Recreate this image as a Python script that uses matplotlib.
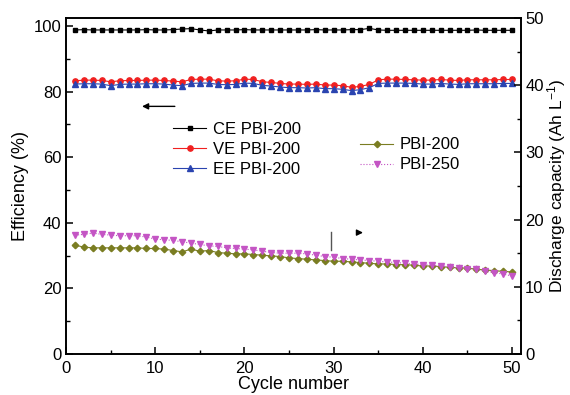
import matplotlib
matplotlib.use('Agg')
import matplotlib.pyplot as plt
import numpy as np

plt.rcParams['font.family'] = ['Liberation Sans', 'DejaVu Sans']
plt.rcParams['mathtext.fontset'] = 'custom'
plt.rcParams['mathtext.rm'] = 'Liberation Sans'
plt.rcParams['mathtext.default'] = 'regular'

cycles = list(range(1, 51))

# coulombic / voltage / energy efficiency of PBI-200 (%)
ce_200 = [98.8, 98.9, 98.8, 98.8, 98.8, 98.8, 98.8, 98.8, 98.9, 98.8,
          98.8, 98.9, 99.1, 99.2, 98.8, 98.5, 98.8, 98.8, 98.8, 98.9,
          98.8, 98.8, 98.8, 98.8, 98.8, 98.8, 98.8, 98.9, 98.8, 98.8,
          98.8, 98.9, 98.9, 99.3, 98.8, 98.7, 98.7, 98.7, 98.7, 98.7,
          98.7, 98.7, 98.7, 98.7, 98.7, 98.8, 98.7, 98.7, 98.7, 98.7]
ve_200 = [83.3, 83.5, 83.5, 83.4, 83.0, 83.3, 83.4, 83.4, 83.5, 83.5,
          83.4, 83.2, 83.0, 83.7, 83.8, 83.8, 83.3, 83.2, 83.3, 83.8,
          83.7, 83.0, 82.8, 82.5, 82.3, 82.3, 82.2, 82.3, 82.0, 82.0,
          81.8, 81.3, 81.6, 82.2, 83.6, 83.8, 83.8, 83.7, 83.6, 83.5,
          83.5, 83.7, 83.5, 83.4, 83.6, 83.6, 83.6, 83.6, 83.7, 83.7]
ee_200 = [82.3, 82.4, 82.4, 82.3, 81.8, 82.2, 82.3, 82.3, 82.4, 82.4,
          82.3, 82.0, 81.8, 82.5, 82.6, 82.6, 82.2, 82.1, 82.2, 82.6,
          82.5, 81.9, 81.7, 81.4, 81.2, 81.2, 81.1, 81.2, 80.9, 80.9,
          80.7, 80.3, 80.6, 81.2, 82.5, 82.6, 82.6, 82.6, 82.5, 82.3,
          82.3, 82.5, 82.3, 82.2, 82.4, 82.4, 82.4, 82.4, 82.5, 82.5]

# discharge capacity (Ah L-1)
cap_200 = [16.2, 15.9, 15.8, 15.8, 15.8, 15.8, 15.8, 15.8, 15.7, 15.7,
           15.6, 15.4, 15.2, 15.6, 15.3, 15.4, 15.1, 15.0, 14.9, 14.9,
           14.8, 14.7, 14.6, 14.5, 14.3, 14.2, 14.1, 14.0, 13.9, 13.8,
           13.8, 13.7, 13.6, 13.5, 13.4, 13.4, 13.3, 13.3, 13.2, 13.1,
           13.1, 13.0, 12.9, 12.8, 12.8, 12.6, 12.5, 12.4, 12.3, 12.2]
cap_250 = [17.7, 17.8, 18.0, 17.8, 17.7, 17.6, 17.6, 17.6, 17.4, 17.1,
           17.0, 16.9, 16.7, 16.5, 16.3, 16.1, 16.0, 15.8, 15.7, 15.6,
           15.5, 15.3, 15.1, 15.0, 15.0, 15.0, 14.9, 14.7, 14.5, 14.4,
           14.2, 14.1, 14.0, 13.9, 13.8, 13.7, 13.6, 13.5, 13.4, 13.3,
           13.2, 13.1, 13.0, 12.8, 12.7, 12.6, 12.3, 12.1, 11.9, 11.6]

fig = plt.figure(figsize=(5.7, 3.95), dpi=100)
ax = fig.add_axes([0.116, 0.104, 0.798, 0.85])
ax2 = ax.twinx()

l1, = ax.plot(cycles, ce_200, '-s', color='black', ms=3.3, lw=0.8, label='CE PBI-200')
l2, = ax.plot(cycles, ve_200, '-o', color='#f02020', ms=3.8, lw=0.8, label='VE PBI-200')
l3, = ax.plot(cycles, ee_200, '-^', color='#2a44b0', ms=4.2, lw=0.8, label='EE PBI-200')
l4, = ax2.plot(cycles, cap_200, '-D', color='#7a7d22', ms=3.3, lw=0.8, label='PBI-200')
l5, = ax2.plot(cycles, cap_250, ':v', color='#c455c4', ms=4.3, lw=0.8, label='PBI-250')

ax.set_xlim(0, 51)
ax.set_ylim(0, 102.4)
ax2.set_ylim(0, 50)
ax.set_xticks([0, 10, 20, 30, 40, 50])
ax.set_xticks(np.arange(5, 51, 10), minor=True)
ax.set_yticks([0, 20, 40, 60, 80, 100])
ax.set_yticks(np.arange(10, 101, 20), minor=True)
ax2.set_yticks([0, 10, 20, 30, 40, 50])
ax2.set_yticks(np.arange(5, 50, 10), minor=True)

for a in (ax, ax2):
    a.tick_params(which='major', direction='in', length=5, width=1.1, labelsize=12)
    a.tick_params(which='minor', direction='in', length=3, width=1.0)
    for s in a.spines.values():
        s.set_linewidth(1.2)
ax.tick_params(axis='x', pad=5)
ax2.tick_params(axis='y', pad=3)

ax.set_xlabel('Cycle number', fontsize=13, labelpad=0)
ax.set_ylabel('Efficiency (%)', fontsize=13, labelpad=3)
ax2.set_ylabel('Discharge capacity (Ah L$^{-1}$)', fontsize=12.5, labelpad=1)

# arrows pointing to the matching axis
ax.annotate('', xy=(8.2, 75.5), xytext=(12.5, 75.5),
            arrowprops=dict(arrowstyle='-|>', color='black', lw=1.0, mutation_scale=9))
ax.annotate('', xy=(33.6, 37.0), xytext=(32.6, 37.0),
            arrowprops=dict(arrowstyle='-|>', color='black', lw=1.0, mutation_scale=9))
ax.plot([29.7, 29.7], [31.8, 37.2], color='#555555', lw=1.0)

leg1 = ax.legend(handles=[l1, l2, l3], loc='upper left', bbox_to_anchor=(0.235, 0.69),
                 frameon=False, fontsize=12, handlelength=2.0, handletextpad=0.4,
                 labelspacing=0.3, borderaxespad=0, borderpad=0)
ax2.legend(handles=[l4, l5], loc='upper left', bbox_to_anchor=(0.646, 0.645),
           frameon=False, fontsize=12, handlelength=2.0, handletextpad=0.4,
           labelspacing=0.3, borderaxespad=0, borderpad=0)

fig.savefig('out.png', dpi=100)
